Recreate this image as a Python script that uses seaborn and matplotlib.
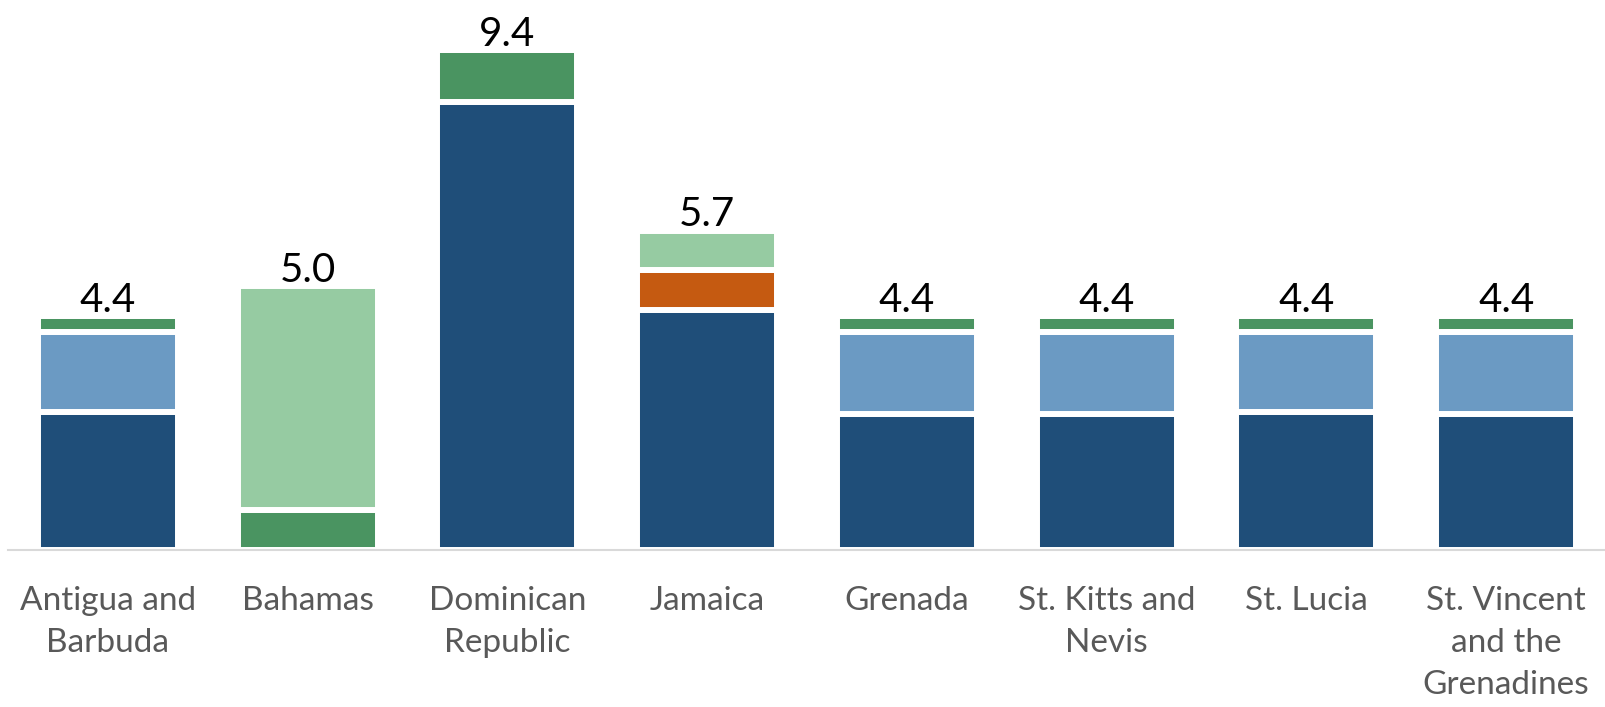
import matplotlib
matplotlib.use("Agg")
import matplotlib.pyplot as plt
import seaborn as sns
import numpy as np
import pandas as pd

categories = ["Antigua and\nBarbuda", "Bahamas", "Dominican\nRepublic", "Jamaica",
              "Grenada", "St. Kitts and\nNevis", "St. Lucia", "St. Vincent\nand the\nGrenadines"]
s_darkblue = [2.59, 0.00, 8.43, 4.51, 2.55, 2.55, 2.59, 2.55]
s_lightblue = [1.51, 0.00, 0.00, 0.00, 1.55, 1.55, 1.51, 1.55]
s_orange = [0.00, 0.00, 0.00, 0.75, 0.00, 0.00, 0.00, 0.00]
s_green = [0.30, 0.74, 0.98, 0.00, 0.30, 0.30, 0.30, 0.30]
s_lightgreen = [0.00, 4.22, 0.00, 0.75, 0.00, 0.00, 0.00, 0.00]
total_labels = ["4.4", "5.0", "9.4", "5.7", "4.4", "4.4", "4.4", "4.4"]

series = [s_darkblue, s_lightblue, s_orange, s_green, s_lightgreen]
colors = ["#1F4E79", "#6B9AC3", "#C55A11", "#4A9461", "#96CBA2"]

sns.set_theme(style="white")
plt.rcParams["font.family"] = ["Lato", "DejaVu Sans"]

W, H = 1606, 707
fig = plt.figure(figsize=(W / 100, H / 100), dpi=100)
base_y = 549.5
ax = fig.add_axes([8 / W, (H - base_y) / H, (W - 8) / W, base_y / H])

px_per_unit = 53.07
bottom = np.zeros(len(categories))
for vals, col in zip(series, colors):
    vals = np.array(vals)
    df = pd.DataFrame({"cat": categories, "val": vals})
    sns.barplot(data=df, x="cat", y="val", order=categories, color=col, saturation=1,
                width=0.70, edgecolor="white", linewidth=4.3, bottom=bottom, ax=ax,
                errorbar=None, zorder=2)
    bottom = bottom + vals

for i, (tot, lab) in enumerate(zip(bottom, total_labels)):
    ax.annotate(lab, xy=(i, tot), xytext=(0, 3), textcoords="offset points",
                ha="center", va="baseline", fontsize=29, color="black")

ax.set_xlim(-0.5, len(categories) - 0.5)
ax.set_ylim(0, base_y / px_per_unit)
ax.set_xlabel("")
ax.set_ylabel("")
ax.set_yticks([])
for s in ["top", "right", "left"]:
    ax.spines[s].set_visible(False)
ax.spines["bottom"].set_color("#D9D9D9")
ax.spines["bottom"].set_linewidth(1.5)
ax.spines["bottom"].set_zorder(5)
ax.tick_params(axis="x", length=0, pad=26, labelsize=24, labelcolor="#595959")
for t in ax.get_xticklabels():
    t.set_linespacing(1.5)

fig.savefig("out.png", dpi=100)
